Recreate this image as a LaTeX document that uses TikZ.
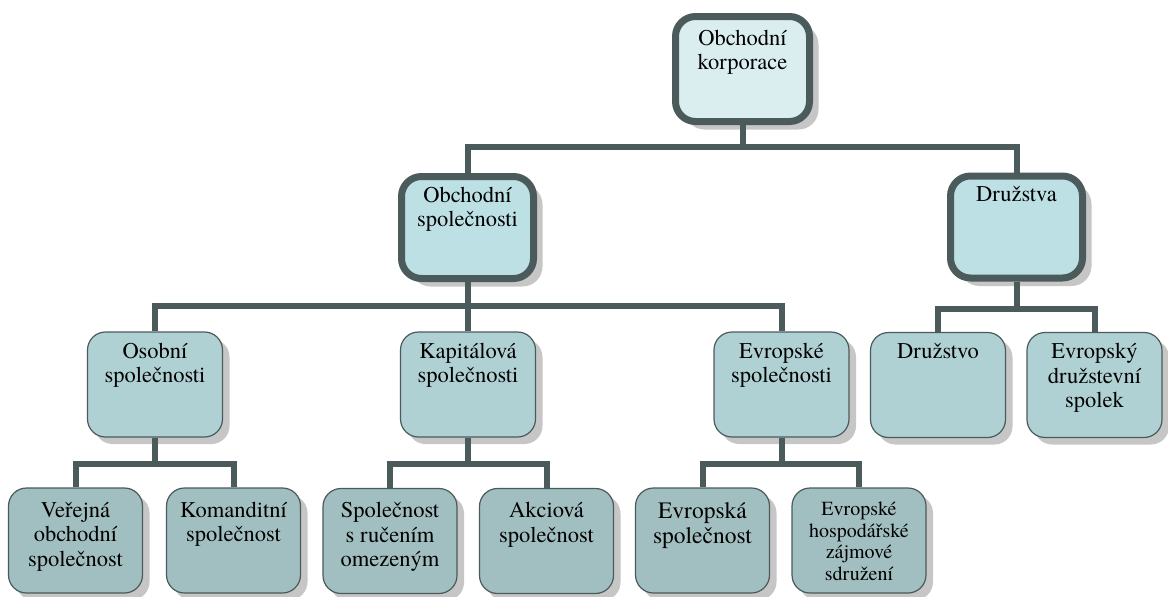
\documentclass[tikz,border=0pt]{standalone}
\usepackage{fontspec}
\IfFontExistsTF{texgyretermes-regular.otf}
  {\newfontfamily\tnr{texgyretermes-regular.otf}}
  {\newcommand\tnr{\rmfamily}}
\usetikzlibrary{shadows}
\definecolor{bord}{HTML}{4B5A5A}
\definecolor{fA}{HTML}{DAEEF0}
\definecolor{fB}{HTML}{BCE0E4}
\definecolor{fC}{HTML}{B0D1D4}
\definecolor{fD}{HTML}{A1BEC0}
\definecolor{shd}{HTML}{C6C6C6}
\tikzset{
  box/.style={draw=bord, rounded corners=18pt, minimum width=134pt, minimum height=105pt, inner sep=0pt},
  bigbox/.style={box, line width=7pt, rounded corners=20pt,
    drop shadow={shadow xshift=9pt, shadow yshift=-8pt, fill=shd, opacity=1}},
  smallbox/.style={box, line width=1.2pt,
    drop shadow={shadow xshift=7pt, shadow yshift=-7pt, fill=shd, opacity=1}},
  lab/.style={anchor=north, align=center, inner sep=0pt, font=\tnr\fontsize{22.5}{24.5}\selectfont},
  conn/.style={draw=bord, line width=6pt},
}
\begin{document}
\begin{tikzpicture}[x=1pt, y=-1pt]
\useasboundingbox (0,0) rectangle (1168,597);
% level 1
\node[bigbox, fill=fA] (top) at (742.5,69) {};
% level 2
\node[bigbox, fill=fB, minimum width=132pt, minimum height=102pt] (obs) at (467.5,227.5) {};
\node[bigbox, fill=fB, minimum width=132pt, minimum height=102pt] (dru) at (1016.5,227) {};
% level 3
\node[smallbox, fill=fC, minimum width=135pt] (os)  at (155,384.5) {};
\node[smallbox, fill=fC, minimum width=135pt] (kap) at (468,384.5) {};
\node[smallbox, fill=fC, minimum width=135pt] (evr) at (781.5,384.5) {};
\node[smallbox, fill=fC, minimum width=135pt] (drz) at (938,385) {};
\node[smallbox, fill=fC, minimum width=135pt] (eds) at (1094.5,385) {};
% level 4
\node[smallbox, fill=fD] (ver)  at (75.5,540.5) {};
\node[smallbox, fill=fD] (kom)  at (233.5,540.5) {};
\node[smallbox, fill=fD] (sro)  at (390,541) {};
\node[smallbox, fill=fD] (akc)  at (546.5,541) {};
\node[smallbox, fill=fD] (es)   at (702.5,540.5) {};
\node[smallbox, fill=fD] (ehzs) at (859,540.5) {};
% texts
\node[lab] (tTop) at ([yshift=-16.5pt]top.north) {Obchodní\\korporace};
\node[lab] (tObs) at ([yshift=-13.5pt]obs.north) {Obchodní\\společnosti};
\node[lab] (tDru) at ([yshift=-13.5pt]dru.north) {Družstva};
\node[lab] (tOs)  at ([yshift=-11.5pt]os.north) {Osobní\\společnosti};
\node[lab] (tKap) at ([yshift=-11.5pt]kap.north) {Kapitálová\\společnosti};
\node[lab] (tEvr) at ([yshift=-11.5pt]evr.north) {Evropské\\společnosti};
\node[lab] (tDrz) at ([yshift=-11.5pt]drz.north) {Družstvo};
\node[lab] (tEds) at ([yshift=-11.5pt]eds.north) {Evropský\\družstevní\\spolek};
\node[lab] (tVer) at ([yshift=-14.5pt]ver.north) {Veřejná\\obchodní\\společnost};
\node[lab] (tKom) at ([yshift=-14.5pt]kom.north) {Komanditní\\společnost};
\node[lab] (tSro) at ([yshift=-14.5pt]sro.north) {Společnost\\s ručením\\omezeným};
\node[lab] (tAkc) at ([yshift=-14.5pt]akc.north) {Akciová\\společnost};
\node[lab, font=\tnr\fontsize{23.5}{25}\selectfont] (tEs) at ([yshift=-14.5pt]es.north) {Evropská\\společnost};
\node[lab, font=\tnr\fontsize{20}{21.5}\selectfont] (tEhzs) at ([yshift=-14.5pt]ehzs.north) {Evropské\\hospodářské\\zájmové\\sdružení};
% connectors
\foreach \c in {obs,dru}
  \draw[conn] (top.south) -- (top.south |- 0,147) -| (\c.north);
\foreach \c in {os,kap,evr}
  \draw[conn] (obs.south) -- (obs.south |- 0,306) -| (\c.north);
\foreach \c in {drz,eds}
  \draw[conn] (dru.south) -- (dru.south |- 0,309) -| (\c.north);
\foreach \c in {ver,kom}
  \draw[conn] (os.south) -- (os.south |- 0,464) -| (\c.north);
\foreach \c in {sro,akc}
  \draw[conn] (kap.south) -- (kap.south |- 0,464) -| (\c.north);
\foreach \c in {es,ehzs}
  \draw[conn] (evr.south) -- (evr.south |- 0,464) -| (\c.north);
\end{tikzpicture}
\end{document}
